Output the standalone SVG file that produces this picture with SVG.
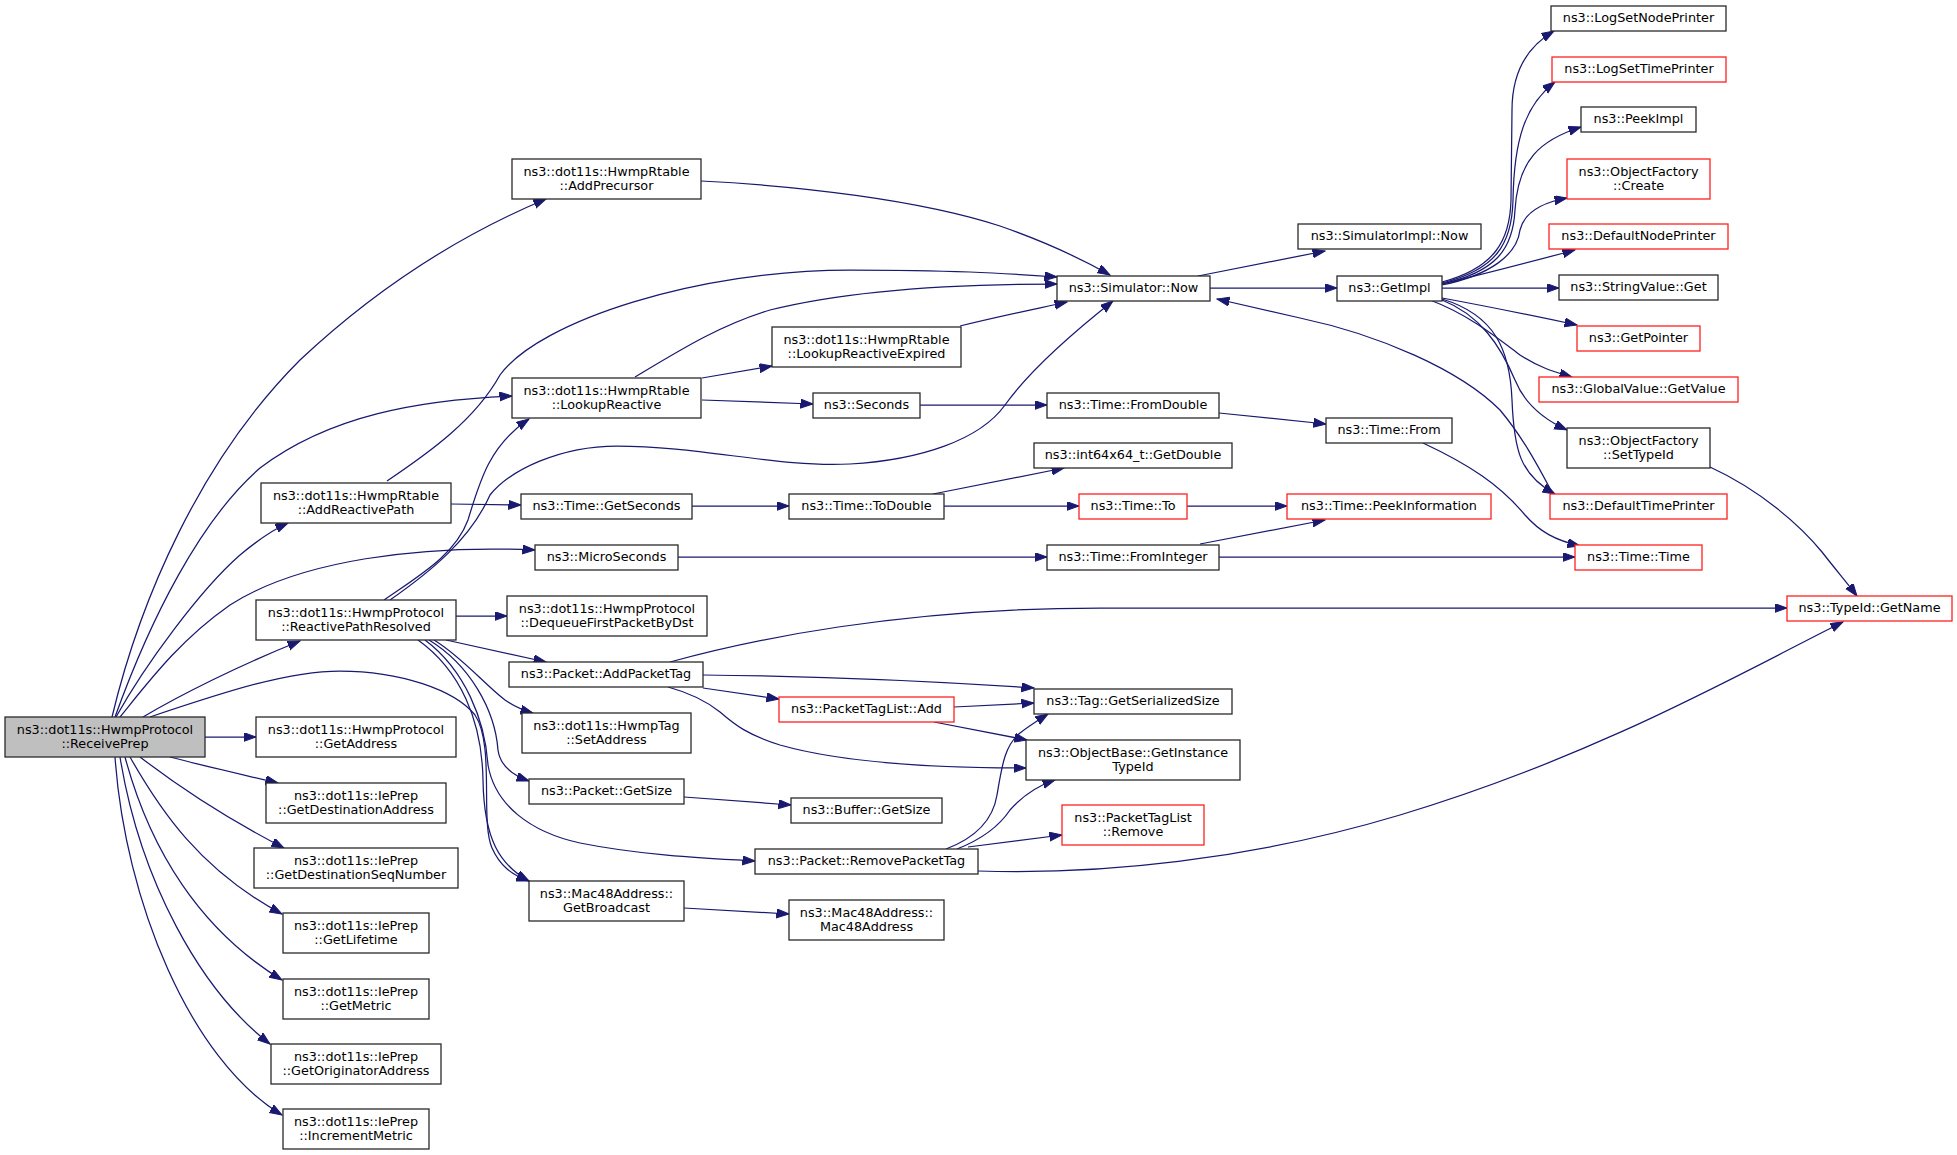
<svg xmlns="http://www.w3.org/2000/svg" width="1957" height="1155" viewBox="0 0 1957 1155">
<defs>
<marker id="ah" markerUnits="userSpaceOnUse" markerWidth="14" markerHeight="10" refX="12.5" refY="4.5" orient="auto">
<path d="M0,0 L12.5,4.5 L0,9 z" fill="#191970" stroke="#191970" stroke-width="1"/>
</marker>
<style>
.node rect{fill:#ffffff;stroke:#2a2a2a;stroke-width:1.3}
.node.red rect{stroke:#ff2020}
.node.root rect{fill:#bfbfbf}
.node text{font-family:"DejaVu Sans","Liberation Sans",sans-serif;font-size:12.8px;fill:#000;text-anchor:middle}
#edges path{fill:none;stroke:#191970;stroke-width:1.25;marker-end:url(#ah)}
</style>
</defs>
<rect width="1957" height="1155" fill="#ffffff"/>
<g id="edges">
<path d="M112,717 C140,600 200,460 300,360 C380,285 460,235 546,199"/>
<path d="M115,717 C150,620 200,520 260,468 C330,415 420,400 512,396"/>
<path d="M116,717 C145,665 200,590 240,555 C258,540 272,530 288,523"/>
<path d="M120,717 C150,680 180,640 230,605 C300,560 420,545 535,550"/>
<path d="M143,717 C180,695 240,665 300,641"/>
<path d="M150,717 C230,690 290,671 340,671 C400,671 455,690 475,715 C495,745 480,820 492,848 C500,866 512,875 529,881"/>
<path d="M205,737 L256,737"/>
<path d="M170,757 C200,765 240,774 278,783"/>
<path d="M140,757 C170,780 220,815 284,848"/>
<path d="M130,757 C160,810 200,870 282,914"/>
<path d="M125,757 C150,850 200,930 282,980"/>
<path d="M120,757 C140,880 200,990 270,1044"/>
<path d="M115,757 C125,900 190,1060 282,1115"/>
<path d="M456,616 L507,616"/>
<path d="M446,640 L546,662"/>
<path d="M384,600 C420,575 455,555 468,520 C480,480 490,445 529,419"/>
<path d="M390,600 C430,572 470,540 490,495 C510,470 560,446 617,446 C700,446 780,468 850,464 C920,460 980,440 1005,405 C1030,370 1070,335 1113,301"/>
<path d="M429,640 C470,665 495,710 498,750 C500,765 512,775 529,781"/>
<path d="M434,640 C462,657 485,685 505,700 C515,707 522,710 533,713"/>
<path d="M418,640 C460,670 482,720 483,780 C484,840 500,865 529,881"/>
<path d="M425,640 C465,670 485,720 488,765 C495,805 530,832 580,843 C640,855 700,858 755,861"/>
<path d="M451,504 L521,505"/>
<path d="M387,481 C430,452 475,420 500,375 C540,320 700,270 850,270 C950,270 1000,273 1057,277"/>
<path d="M635,377 C680,350 720,325 770,310 C850,290 950,284 1057,284"/>
<path d="M702,378 L772,366"/>
<path d="M702,400 L813,404"/>
<path d="M701,181 C800,186 920,200 1000,226 C1040,240 1080,258 1110,275"/>
<path d="M960,326 C1000,316 1040,308 1067,302"/>
<path d="M1198,276 L1325,251"/>
<path d="M1210,288 L1337,288"/>
<path d="M1442,282 C1495,268 1510,240 1511,200 L1512,110 C1512,70 1530,45 1554,31"/>
<path d="M1442,283 C1495,270 1512,245 1513,200 C1514,140 1525,105 1555,82"/>
<path d="M1442,284 C1495,272 1513,250 1515,210 C1518,160 1540,140 1581,127"/>
<path d="M1442,285 C1490,275 1517,255 1520,230 C1525,210 1545,202 1567,198"/>
<path d="M1442,284 C1480,275 1530,262 1575,250"/>
<path d="M1442,288 L1559,288"/>
<path d="M1442,298 C1480,305 1530,315 1577,325"/>
<path d="M1430,300 C1470,315 1500,340 1520,355 C1540,368 1555,372 1572,377"/>
<path d="M1442,300 C1480,315 1500,345 1515,380 C1525,405 1545,420 1567,430"/>
<path d="M1442,299 C1495,315 1510,350 1512,400 C1514,450 1520,475 1555,494"/>
<path d="M1553,494 C1540,470 1525,440 1500,410 C1460,370 1380,335 1300,318 C1270,311 1240,304 1217,299"/>
<path d="M920,405 L1047,405"/>
<path d="M1219,413 L1326,424"/>
<path d="M1423,443 C1470,465 1500,485 1525,515 C1540,532 1555,540 1580,546"/>
<path d="M692,506 L789,506"/>
<path d="M933,494 L1064,468"/>
<path d="M944,506 L1079,506"/>
<path d="M1187,506 L1287,506"/>
<path d="M1200,544 L1325,520"/>
<path d="M1219,557 L1575,557"/>
<path d="M678,557 L1047,557"/>
<path d="M1710,467 C1760,490 1800,525 1822,552 C1836,570 1848,584 1857,596"/>
<path d="M670,662 C750,640 900,608 1100,608 L1787,608"/>
<path d="M703,675 C800,676 914,680 1034,688"/>
<path d="M703,688 L779,699"/>
<path d="M668,687 C690,693 705,700 720,712 C735,725 748,735 780,745 C850,765 950,768 1026,768"/>
<path d="M954,707 L1034,703"/>
<path d="M934,722 L1027,740"/>
<path d="M684,797 L791,805"/>
<path d="M684,908 L789,914"/>
<path d="M946,849 C975,838 993,820 997,795 C1002,765 1005,745 1020,733 C1030,725 1040,719 1048,714"/>
<path d="M957,849 C985,838 1000,825 1010,810 C1025,793 1040,785 1055,780"/>
<path d="M968,847 L1062,835"/>
<path d="M978,871 C1100,875 1250,860 1400,815 C1600,755 1750,668 1843,622"/>
</g>
<g id="n1" class="node root"><rect x="5" y="717" width="200" height="40"/><text x="105" y="733.5">ns3::dot11s::HwmpProtocol</text><text x="105" y="747.5">::ReceivePrep</text></g>
<g id="n2" class="node"><rect x="512" y="159" width="189" height="40"/><text x="606.5" y="175.5">ns3::dot11s::HwmpRtable</text><text x="606.5" y="189.5">::AddPrecursor</text></g>
<g id="n3" class="node"><rect x="512" y="378" width="189" height="40"/><text x="606.5" y="394.5">ns3::dot11s::HwmpRtable</text><text x="606.5" y="408.5">::LookupReactive</text></g>
<g id="n4" class="node"><rect x="261" y="483" width="190" height="40"/><text x="356" y="499.5">ns3::dot11s::HwmpRtable</text><text x="356" y="513.5">::AddReactivePath</text></g>
<g id="n5" class="node"><rect x="535" y="545" width="143" height="25"/><text x="606.5" y="561">ns3::MicroSeconds</text></g>
<g id="n6" class="node"><rect x="256" y="600" width="200" height="40"/><text x="356" y="616.5">ns3::dot11s::HwmpProtocol</text><text x="356" y="630.5">::ReactivePathResolved</text></g>
<g id="n7" class="node"><rect x="256" y="717" width="200" height="40"/><text x="356" y="733.5">ns3::dot11s::HwmpProtocol</text><text x="356" y="747.5">::GetAddress</text></g>
<g id="n8" class="node"><rect x="266" y="783" width="180" height="40"/><text x="356" y="799.5">ns3::dot11s::IePrep</text><text x="356" y="813.5">::GetDestinationAddress</text></g>
<g id="n9" class="node"><rect x="254" y="848" width="204" height="40"/><text x="356" y="864.5">ns3::dot11s::IePrep</text><text x="356" y="878.5">::GetDestinationSeqNumber</text></g>
<g id="n10" class="node"><rect x="283" y="913" width="146" height="40"/><text x="356" y="929.5">ns3::dot11s::IePrep</text><text x="356" y="943.5">::GetLifetime</text></g>
<g id="n11" class="node"><rect x="283" y="979" width="146" height="40"/><text x="356" y="995.5">ns3::dot11s::IePrep</text><text x="356" y="1009.5">::GetMetric</text></g>
<g id="n12" class="node"><rect x="271" y="1044" width="170" height="40"/><text x="356" y="1060.5">ns3::dot11s::IePrep</text><text x="356" y="1074.5">::GetOriginatorAddress</text></g>
<g id="n13" class="node"><rect x="283" y="1109" width="146" height="40"/><text x="356" y="1125.5">ns3::dot11s::IePrep</text><text x="356" y="1139.5">::IncrementMetric</text></g>
<g id="n14" class="node"><rect x="507" y="596" width="200" height="40"/><text x="607" y="612.5">ns3::dot11s::HwmpProtocol</text><text x="607" y="626.5">::DequeueFirstPacketByDst</text></g>
<g id="n15" class="node"><rect x="509" y="662" width="194" height="25"/><text x="606" y="678">ns3::Packet::AddPacketTag</text></g>
<g id="n16" class="node"><rect x="522" y="713" width="169" height="40"/><text x="606.5" y="729.5">ns3::dot11s::HwmpTag</text><text x="606.5" y="743.5">::SetAddress</text></g>
<g id="n17" class="node"><rect x="529" y="779" width="155" height="25"/><text x="606.5" y="795">ns3::Packet::GetSize</text></g>
<g id="n18" class="node"><rect x="529" y="881" width="155" height="40"/><text x="606.5" y="897.5">ns3::Mac48Address::</text><text x="606.5" y="911.5">GetBroadcast</text></g>
<g id="n19" class="node"><rect x="1057" y="276" width="153" height="25"/><text x="1133.5" y="292">ns3::Simulator::Now</text></g>
<g id="n20" class="node"><rect x="1298" y="224" width="183" height="25"/><text x="1389.5" y="240">ns3::SimulatorImpl::Now</text></g>
<g id="n21" class="node"><rect x="1337" y="276" width="105" height="25"/><text x="1389.5" y="292">ns3::GetImpl</text></g>
<g id="n22" class="node"><rect x="772" y="327" width="189" height="40"/><text x="866.5" y="343.5">ns3::dot11s::HwmpRtable</text><text x="866.5" y="357.5">::LookupReactiveExpired</text></g>
<g id="n23" class="node"><rect x="813" y="393" width="107" height="25"/><text x="866.5" y="409">ns3::Seconds</text></g>
<g id="n24" class="node"><rect x="1047" y="393" width="172" height="25"/><text x="1133" y="409">ns3::Time::FromDouble</text></g>
<g id="n25" class="node"><rect x="1326" y="418" width="126" height="25"/><text x="1389" y="434">ns3::Time::From</text></g>
<g id="n26" class="node"><rect x="1034" y="443" width="198" height="25"/><text x="1133" y="459">ns3::int64x64_t::GetDouble</text></g>
<g id="n27" class="node"><rect x="521" y="494" width="171" height="25"/><text x="606.5" y="510">ns3::Time::GetSeconds</text></g>
<g id="n28" class="node"><rect x="789" y="494" width="155" height="25"/><text x="866.5" y="510">ns3::Time::ToDouble</text></g>
<g id="n29" class="node red"><rect x="1079" y="494" width="108" height="25"/><text x="1133" y="510">ns3::Time::To</text></g>
<g id="n30" class="node red"><rect x="1287" y="494" width="204" height="25"/><text x="1389" y="510">ns3::Time::PeekInformation</text></g>
<g id="n31" class="node"><rect x="1047" y="545" width="172" height="25"/><text x="1133" y="561">ns3::Time::FromInteger</text></g>
<g id="n32" class="node red"><rect x="1575" y="545" width="127" height="25"/><text x="1638.5" y="561">ns3::Time::Time</text></g>
<g id="n33" class="node red"><rect x="1787" y="596" width="165" height="25"/><text x="1869.5" y="612">ns3::TypeId::GetName</text></g>
<g id="n34" class="node red"><rect x="779" y="697" width="175" height="25"/><text x="866.5" y="713">ns3::PacketTagList::Add</text></g>
<g id="n35" class="node"><rect x="1034" y="689" width="198" height="25"/><text x="1133" y="705">ns3::Tag::GetSerializedSize</text></g>
<g id="n36" class="node"><rect x="1026" y="740" width="214" height="40"/><text x="1133" y="756.5">ns3::ObjectBase::GetInstance</text><text x="1133" y="770.5">TypeId</text></g>
<g id="n37" class="node"><rect x="791" y="798" width="151" height="25"/><text x="866.5" y="814">ns3::Buffer::GetSize</text></g>
<g id="n38" class="node red"><rect x="1062" y="805" width="142" height="40"/><text x="1133" y="821.5">ns3::PacketTagList</text><text x="1133" y="835.5">::Remove</text></g>
<g id="n39" class="node"><rect x="755" y="849" width="223" height="25"/><text x="866.5" y="865">ns3::Packet::RemovePacketTag</text></g>
<g id="n40" class="node"><rect x="789" y="900" width="155" height="40"/><text x="866.5" y="916.5">ns3::Mac48Address::</text><text x="866.5" y="930.5">Mac48Address</text></g>
<g id="n41" class="node"><rect x="1551" y="6" width="175" height="25"/><text x="1638.5" y="22">ns3::LogSetNodePrinter</text></g>
<g id="n42" class="node red"><rect x="1552" y="57" width="174" height="25"/><text x="1639" y="73">ns3::LogSetTimePrinter</text></g>
<g id="n43" class="node"><rect x="1581" y="107" width="115" height="25"/><text x="1638.5" y="123">ns3::PeekImpl</text></g>
<g id="n44" class="node red"><rect x="1567" y="159" width="143" height="40"/><text x="1638.5" y="175.5">ns3::ObjectFactory</text><text x="1638.5" y="189.5">::Create</text></g>
<g id="n45" class="node red"><rect x="1549" y="224" width="179" height="25"/><text x="1638.5" y="240">ns3::DefaultNodePrinter</text></g>
<g id="n46" class="node"><rect x="1559" y="275" width="159" height="25"/><text x="1638.5" y="291">ns3::StringValue::Get</text></g>
<g id="n47" class="node red"><rect x="1577" y="326" width="123" height="25"/><text x="1638.5" y="342">ns3::GetPointer</text></g>
<g id="n48" class="node red"><rect x="1539" y="377" width="199" height="25"/><text x="1638.5" y="393">ns3::GlobalValue::GetValue</text></g>
<g id="n49" class="node"><rect x="1567" y="428" width="143" height="40"/><text x="1638.5" y="444.5">ns3::ObjectFactory</text><text x="1638.5" y="458.5">::SetTypeId</text></g>
<g id="n50" class="node red"><rect x="1550" y="494" width="177" height="25"/><text x="1638.5" y="510">ns3::DefaultTimePrinter</text></g>
</svg>
